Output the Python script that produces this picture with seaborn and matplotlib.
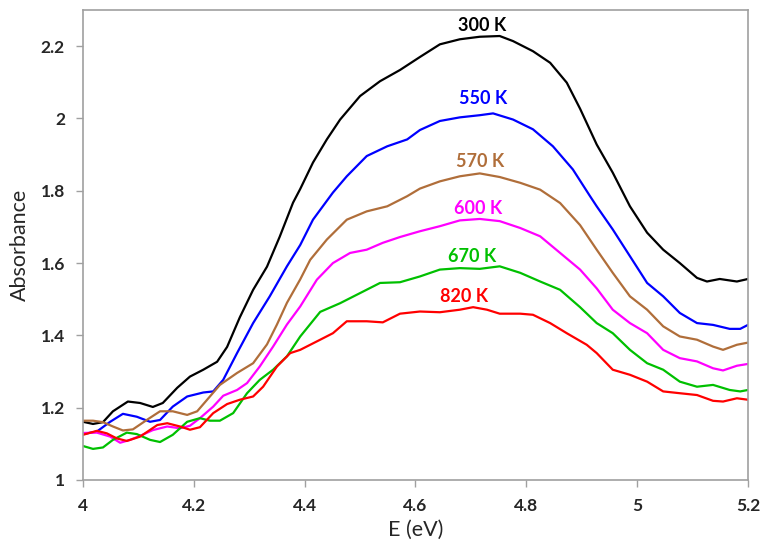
# IMPORTS

import matplotlib

matplotlib.use("Agg")
import pandas as pd
import seaborn as sns
import matplotlib.pyplot as plt

sns.set_theme(style="ticks")
plt.rcParams["font.family"] = ["Lato", "DejaVu Sans"]

# DATA

e_300 = [4.000, 4.018, 4.036, 4.054, 4.081, 4.103, 4.126, 4.144, 4.170, 4.193, 4.217, 4.242, 4.260,
         4.283, 4.307, 4.332, 4.355, 4.379, 4.392, 4.415, 4.440, 4.464, 4.500, 4.536, 4.572, 4.608,
         4.644, 4.680, 4.716, 4.752, 4.776, 4.812, 4.843, 4.873, 4.897, 4.927, 4.956, 4.987, 5.018,
         5.047, 5.077, 5.108, 5.126, 5.149, 5.180, 5.200]
a_300 = [1.161, 1.155, 1.160, 1.190, 1.217, 1.213, 1.202, 1.213, 1.255, 1.286, 1.305, 1.327, 1.368,
         1.450, 1.526, 1.590, 1.673, 1.767, 1.805, 1.878, 1.942, 1.997, 2.062, 2.103, 2.134, 2.170,
         2.205, 2.219, 2.226, 2.228, 2.214, 2.186, 2.154, 2.099, 2.027, 1.928, 1.850, 1.757, 1.684,
         1.637, 1.600, 1.559, 1.549, 1.556, 1.549, 1.556]

e_550 = [4.000, 4.025, 4.049, 4.072, 4.097, 4.121, 4.139, 4.162, 4.188, 4.217, 4.235, 4.253, 4.278,
         4.307, 4.337, 4.368, 4.392, 4.415, 4.451, 4.476, 4.512, 4.549, 4.585, 4.608, 4.644, 4.680,
         4.716, 4.740, 4.776, 4.812, 4.848, 4.884, 4.915, 4.927, 4.956, 4.987, 5.018, 5.047, 5.077,
         5.108, 5.137, 5.167, 5.186, 5.200]
a_550 = [1.127, 1.134, 1.161, 1.183, 1.175, 1.161, 1.166, 1.203, 1.231, 1.242, 1.245, 1.277, 1.351,
         1.434, 1.508, 1.591, 1.650, 1.720, 1.795, 1.840, 1.896, 1.923, 1.942, 1.968, 1.993, 2.003,
         2.009, 2.014, 1.997, 1.970, 1.923, 1.859, 1.785, 1.757, 1.693, 1.619, 1.545, 1.508, 1.462,
         1.434, 1.429, 1.418, 1.418, 1.429]

e_570 = [4.000, 4.018, 4.036, 4.054, 4.072, 4.090, 4.115, 4.139, 4.162, 4.188, 4.206, 4.224, 4.247,
         4.278, 4.307, 4.332, 4.350, 4.368, 4.392, 4.410, 4.440, 4.476, 4.512, 4.549, 4.585, 4.608,
         4.644, 4.680, 4.716, 4.752, 4.789, 4.825, 4.861, 4.897, 4.927, 4.956, 4.987, 5.018, 5.047,
         5.077, 5.108, 5.137, 5.155, 5.180, 5.200]
a_570 = [1.164, 1.164, 1.160, 1.148, 1.137, 1.140, 1.166, 1.190, 1.190, 1.180, 1.190, 1.222, 1.263,
         1.296, 1.323, 1.375, 1.430, 1.490, 1.555, 1.609, 1.665, 1.720, 1.743, 1.757, 1.785, 1.806,
         1.826, 1.840, 1.848, 1.838, 1.822, 1.803, 1.766, 1.705, 1.637, 1.573, 1.508, 1.471, 1.425,
         1.397, 1.388, 1.369, 1.360, 1.374, 1.380]

e_600 = [4.000, 4.025, 4.049, 4.067, 4.085, 4.103, 4.126, 4.152, 4.175, 4.193, 4.211, 4.235, 4.253,
         4.278, 4.296, 4.319, 4.343, 4.368, 4.392, 4.422, 4.451, 4.482, 4.512, 4.541, 4.572, 4.608,
         4.644, 4.680, 4.716, 4.752, 4.789, 4.825, 4.861, 4.897, 4.927, 4.956, 4.987, 5.018, 5.047,
         5.077, 5.108, 5.137, 5.155, 5.180, 5.200]
a_600 = [1.130, 1.131, 1.120, 1.103, 1.111, 1.122, 1.138, 1.148, 1.143, 1.150, 1.171, 1.203, 1.233,
         1.249, 1.268, 1.314, 1.369, 1.430, 1.480, 1.554, 1.600, 1.628, 1.637, 1.656, 1.672, 1.688,
         1.702, 1.718, 1.722, 1.716, 1.697, 1.674, 1.628, 1.582, 1.530, 1.471, 1.434, 1.406, 1.360,
         1.337, 1.328, 1.309, 1.303, 1.316, 1.321]

e_670 = [4.000, 4.018, 4.036, 4.054, 4.079, 4.097, 4.121, 4.139, 4.162, 4.188, 4.211, 4.229, 4.247,
         4.271, 4.296, 4.319, 4.343, 4.368, 4.392, 4.428, 4.464, 4.500, 4.536, 4.572, 4.608, 4.644,
         4.680, 4.716, 4.752, 4.789, 4.825, 4.861, 4.897, 4.927, 4.956, 4.987, 5.018, 5.047, 5.077,
         5.108, 5.137, 5.167, 5.186, 5.200]
a_670 = [1.094, 1.086, 1.090, 1.111, 1.131, 1.127, 1.111, 1.105, 1.125, 1.161, 1.171, 1.164, 1.164,
         1.185, 1.240, 1.277, 1.305, 1.342, 1.397, 1.465, 1.489, 1.517, 1.545, 1.547, 1.563, 1.582,
         1.586, 1.584, 1.591, 1.573, 1.549, 1.526, 1.478, 1.434, 1.406, 1.360, 1.323, 1.305, 1.272,
         1.258, 1.263, 1.249, 1.245, 1.249]

e_820 = [4.000, 4.025, 4.043, 4.061, 4.079, 4.103, 4.134, 4.152, 4.175, 4.193, 4.211, 4.235, 4.260,
         4.283, 4.307, 4.325, 4.350, 4.374, 4.392, 4.428, 4.451, 4.476, 4.512, 4.541, 4.572, 4.608,
         4.644, 4.680, 4.704, 4.729, 4.752, 4.789, 4.812, 4.843, 4.873, 4.909, 4.927, 4.956, 4.987,
         5.018, 5.047, 5.077, 5.108, 5.137, 5.155, 5.180, 5.200]
a_820 = [1.125, 1.136, 1.129, 1.115, 1.108, 1.120, 1.152, 1.157, 1.148, 1.139, 1.146, 1.185, 1.210,
         1.222, 1.231, 1.258, 1.314, 1.351, 1.360, 1.388, 1.406, 1.439, 1.439, 1.436, 1.460, 1.466,
         1.464, 1.471, 1.478, 1.471, 1.460, 1.460, 1.457, 1.434, 1.406, 1.374, 1.351, 1.305, 1.291,
         1.272, 1.245, 1.240, 1.235, 1.219, 1.217, 1.226, 1.222]

temps = ["300 K", "550 K", "570 K", "600 K", "670 K", "820 K"]
energies = [e_300, e_550, e_570, e_600, e_670, e_820]
absorb = [a_300, a_550, a_570, a_600, a_670, a_820]
colors = ["black", "#0000ff", "#b06e3a", "#ff00ff", "#00c000", "#ff0000"]

# Label positions (E, absorbance) for the temperature tags
label_e = [4.72, 4.722, 4.716, 4.713, 4.702, 4.688]
label_a = [2.258, 2.055, 1.881, 1.751, 1.619, 1.507]

# VISUALIZATION

fig = plt.figure(figsize=(7.63, 5.49), dpi=100)
ax = fig.add_axes([0.1088, 0.1257, 0.8715, 0.8561])

for t, e, a, c in zip(temps, energies, absorb, colors):
    df = pd.DataFrame({"E": e, "A": a})
    sns.lineplot(data=df, x="E", y="A", color=c, linewidth=1.6, ax=ax,
                 estimator=None, sort=False)

for t, le, la, c in zip(temps, label_e, label_a, colors):
    ax.text(le, la, t, color=c, fontsize=13, fontweight="bold", ha="center", va="center")

# Graph details
ax.set_xlim(4, 5.2)
ax.set_ylim(1, 2.3)
ax.set_xticks([4, 4.2, 4.4, 4.6, 4.8, 5, 5.2])
ax.set_yticks([1, 1.2, 1.4, 1.6, 1.8, 2, 2.2])
ax.set_xticklabels(["4", "4.2", "4.4", "4.6", "4.8", "5", "5.2"])
ax.set_yticklabels(["1", "1.2", "1.4", "1.6", "1.8", "2", "2.2"])
for lab in ax.get_xticklabels() + ax.get_yticklabels():
    lab.set_fontweight("bold")
    lab.set_fontsize(12.5)
ax.tick_params(axis="both", direction="out", length=5, width=1, color="#a0a0a0", pad=8)
ax.set_xlabel("E (eV)", fontsize=15.5, labelpad=4)
ax.set_ylabel("Absorbance", fontsize=15.5, labelpad=8)
for s in ax.spines.values():
    s.set_color("#a0a0a0")
    s.set_linewidth(1.2)
ax.grid(False)

fig.savefig("out.png", dpi=100)
